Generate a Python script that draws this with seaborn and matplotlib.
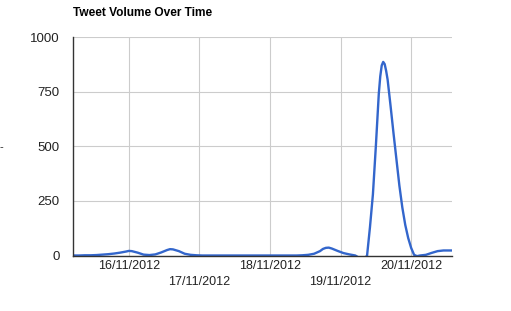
import matplotlib
matplotlib.use("Agg")
import matplotlib.pyplot as plt
import seaborn as sns
import pandas as pd

# hours since 16/11/2012 00:00 and tweet counts
hours = [-19, -17, -15, -13, -11, -9, -7, -5, -3, -1, 0, 1, 3, 5, 7, 9, 11, 13, 14, 15, 17, 19, 21, 23,
         25, 27, 29, 31, 33, 35, 37, 39, 41, 43, 45, 47, 49, 51, 53, 55, 57,
         59, 61, 63, 65, 66, 67, 68, 69, 71, 73, 75, 77, 78, 79, 80, 81,
         82, 83, 84, 85, 85.5, 86, 86.5, 87, 87.5, 88, 89, 90, 91, 92, 93, 94, 95, 96, 97, 98, 99,
         101, 103, 105, 107, 109, 110]
tweets = [0, 0, 1, 1, 2, 4, 6, 9, 13, 18, 21, 20, 13, 4, 2, 5, 14, 25, 29, 28, 20, 8, 3, 1,
          0, 0, 0, 0, 0, 0, 0, 0, 0, 0, 0, 0, 0, 0, 0, 0, 0,
          1, 3, 8, 20, 30, 35, 36, 32, 21, 11, 5, 0, -8, -15, -12, -2,
          130, 280, 500, 740, 820, 870, 886, 876, 845, 805, 685, 560, 440, 320, 220, 140, 80, 35, 3, -3, 0,
          3, 12, 20, 23, 23, 23]
tick_days = ["2012-11-16", "2012-11-17", "2012-11-18", "2012-11-19", "2012-11-20"]
tick_labels = ["16/11/2012", "17/11/2012", "18/11/2012", "19/11/2012", "20/11/2012"]
y_ticks = [0, 250, 500, 750, 1000]
title = "Tweet Volume Over Time"

times = pd.Timestamp("2012-11-16") + pd.to_timedelta(hours, unit="h")
df = pd.DataFrame({"time": times, "tweets": tweets})

sns.set_style("white")
plt.rcParams["font.family"] = ["Liberation Sans", "DejaVu Sans"]

fig = plt.figure(figsize=(5.11, 3.11), dpi=100)
ax = fig.add_axes([73 / 511, 55.5 / 311, (452.3 - 73) / 511, (255.5 - 37) / 311])

sns.lineplot(data=df, x="time", y="tweets", ax=ax, color="#3366cc", linewidth=1.7)

ax.set_xlim(times.min(), times.max())
ax.set_ylim(0, 1000)
ax.set_yticks(y_ticks)
ax.set_yticklabels([str(v) for v in y_ticks])
tdays = pd.to_datetime(tick_days)
ax.set_xticks(tdays)
ax.set_xticklabels([("\n" + l) if i % 2 else l for i, l in enumerate(tick_labels)])
for lbl in ax.get_xticklabels():
    lbl.set_linespacing(1.45)

ax.grid(True, color="#cccccc", linewidth=0.8)
ax.set_axisbelow(True)
for s in ["top", "right"]:
    ax.spines[s].set_visible(False)
for s in ["left", "bottom"]:
    ax.spines[s].set_color("#333333")
    ax.spines[s].set_linewidth(1.0)
    ax.spines[s].set_zorder(5)
ax.tick_params(axis="both", length=0, colors="#222222")
ax.tick_params(axis="x", labelsize=9, pad=3.5)
ax.tick_params(axis="y", labelsize=9.5, pad=9.5)
ax.set_xlabel("")
ax.set_ylabel("")

fig.text(73 / 511, 1 - 13 / 311, title, ha="left", va="center",
         fontsize=8.6, fontweight="bold", color="#000000")
fig.text(0.0, 1 - 147 / 311, "-", ha="left", va="center", fontsize=8, color="#222222")

fig.savefig("out.png", dpi=100)
